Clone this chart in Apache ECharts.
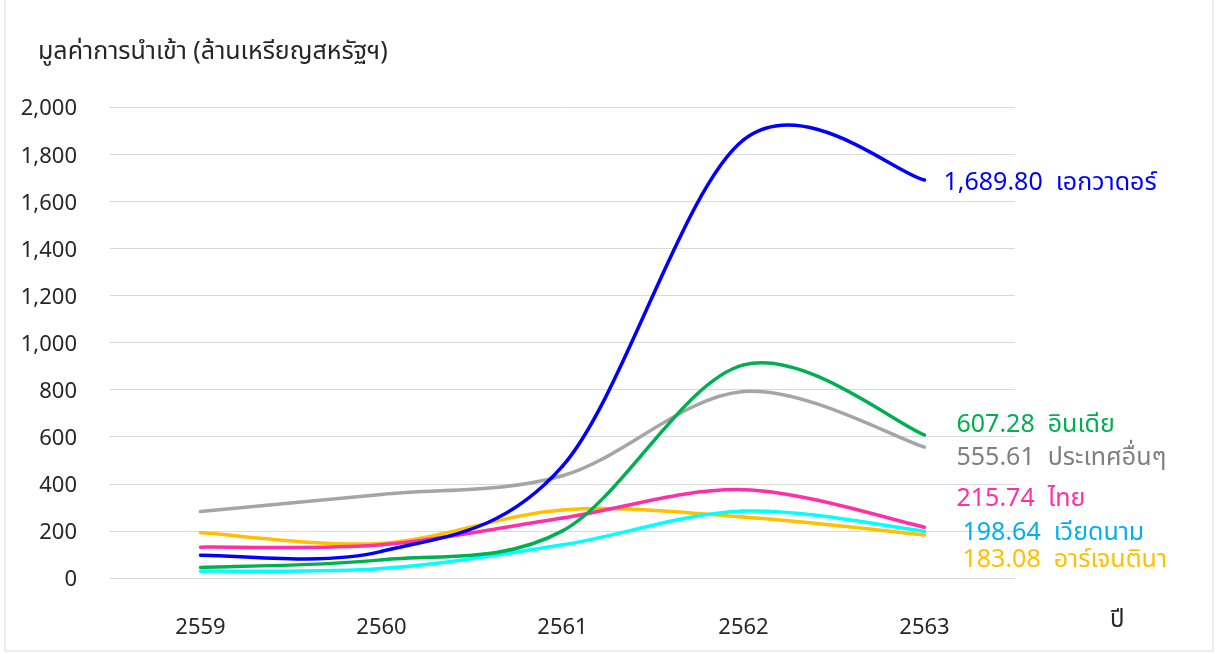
<!DOCTYPE html>
<html>
<head>
<meta charset="utf-8">
<script src="https://cdn.jsdelivr.net/npm/echarts@6/dist/echarts.min.js"></script>
<style>
html,body{margin:0;padding:0;background:#fff;}
#c{width:1216px;height:654px;}
</style>
</head>
<body>
<div id="c"></div>
<script>
const years = ['2559','2560','2561','2562','2563'];
const ecuador = [97, 113, 475, 1860, 1689.80];
const india = [45, 77, 200, 905, 607.28];
const others = [282, 355, 434, 792, 555.61];
const thailand = [131, 141, 255, 375, 215.74];
const vietnam = [29, 40, 141, 284, 198.64];
const argentina = [193, 147, 289, 259, 183.08];
const names = ['เอกวาดอร์','อินเดีย','ประเทศอื่นๆ','ไทย','เวียดนาม','อาร์เจนตินา'];
const yTicks = [0,200,400,600,800,1000,1200,1400,1600,1800,2000];

const FONT = '"Noto Sans Thai","Tahoma","Leelawadee UI","Noto Sans","DejaVu Sans",sans-serif';
const chart = echarts.init(document.getElementById('c'), null, {renderer:'canvas'});

function fmt(v){
  return v.toLocaleString('en-US',{minimumFractionDigits:2, maximumFractionDigits:2});
}
// Smoothed line (cubic Bezier spline through points, tension 1/6) drawn through the axis scales
function mk(name, values, lineColor, labelColor, off){
  return {
    name: name, type:'custom',
    data: values.map((v,i)=>[i, v]),
    renderItem: function(params, api){
      if (params.dataIndex !== 0) return null;
      const p = values.map((v,i)=>api.coord([i, v]));
      const n = p.length;
      const children = [];
      for (let i=0;i<n-1;i++){
        const p0 = p[Math.max(i-1,0)], p1 = p[i], p2 = p[i+1], p3 = p[Math.min(i+2,n-1)];
        children.push({type:'bezierCurve', silent:true,
          shape:{x1:p1[0], y1:p1[1], x2:p2[0], y2:p2[1],
            cpx1:p1[0]+(p2[0]-p0[0])/6, cpy1:p1[1]+(p2[1]-p0[1])/6,
            cpx2:p2[0]-(p3[0]-p1[0])/6, cpy2:p2[1]-(p3[1]-p1[1])/6},
          style:{stroke:lineColor, lineWidth:3.5, fill:null, lineCap:'round'}});
      }
      const last = p[n-1];
      children.push({type:'text', silent:true,
        style:{text: fmt(values[n-1]) + '  ' + name, x: last[0]+off[0], y: last[1]+off[1],
          fill: labelColor, font: '25px ' + FONT, verticalAlign:'middle', align:'left'}});
      return {type:'group', children: children};
    }
  };
}
chart.setOption({
  animation:false,
  title:{text:'มูลค่าการนำเข้า (ล้านเหรียญสหรัฐฯ)', left:33, top:36,
    textStyle:{fontSize:25, fontWeight:'normal', color:'#262626', fontFamily:FONT}},
  graphic:[
    {type:'rect', shape:{x:5, y:-5, width:1208, height:656},
      style:{fill:'none', stroke:'#d9d9d9', lineWidth:1}, silent:true},
    {type:'text', left:1110, top:610, silent:true,
      style:{text:'ปี', fill:'#262626', font:'24px ' + FONT}}
  ],
  grid:{left:110, right:201, top:107, bottom:76},
  xAxis:{type:'category', data: years, boundaryGap:true,
    axisLine:{show:false}, axisTick:{show:false},
    axisLabel:{margin:41, fontSize:22, color:'#262626', fontFamily:FONT}
  },
  yAxis:{type:'value', min:0, max:2000, interval:200,
    axisLine:{show:false}, axisTick:{show:false},
    splitLine:{lineStyle:{color:'#d9d9d9', width:1}},
    axisLabel:{margin:33, fontSize:22, color:'#262626', fontFamily:FONT,
      formatter: v => '{a|' + v.toLocaleString('en-US') + '}',
      rich:{a:{fontSize:22, color:'#262626', fontFamily:FONT, padding:[8,0,0,0]}}}
  },
  series:[
    mk(names[2], others, '#A5A5A5', '#7F7F7F', [32, 13]),
    mk(names[5], argentina, '#FFC000', '#FFC000', [38, 27]),
    mk(names[3], thailand, '#FF2FA8', '#FF2FA8', [32, -26]),
    mk(names[4], vietnam, '#00FFFF', '#00B0F0', [38, 4]),
    mk(names[1], india, '#00B050', '#00B050', [32, -8]),
    mk(names[0], ecuador, '#0000FF', '#0000FF', [19, 5])
  ]
});
</script>
</body>
</html>
